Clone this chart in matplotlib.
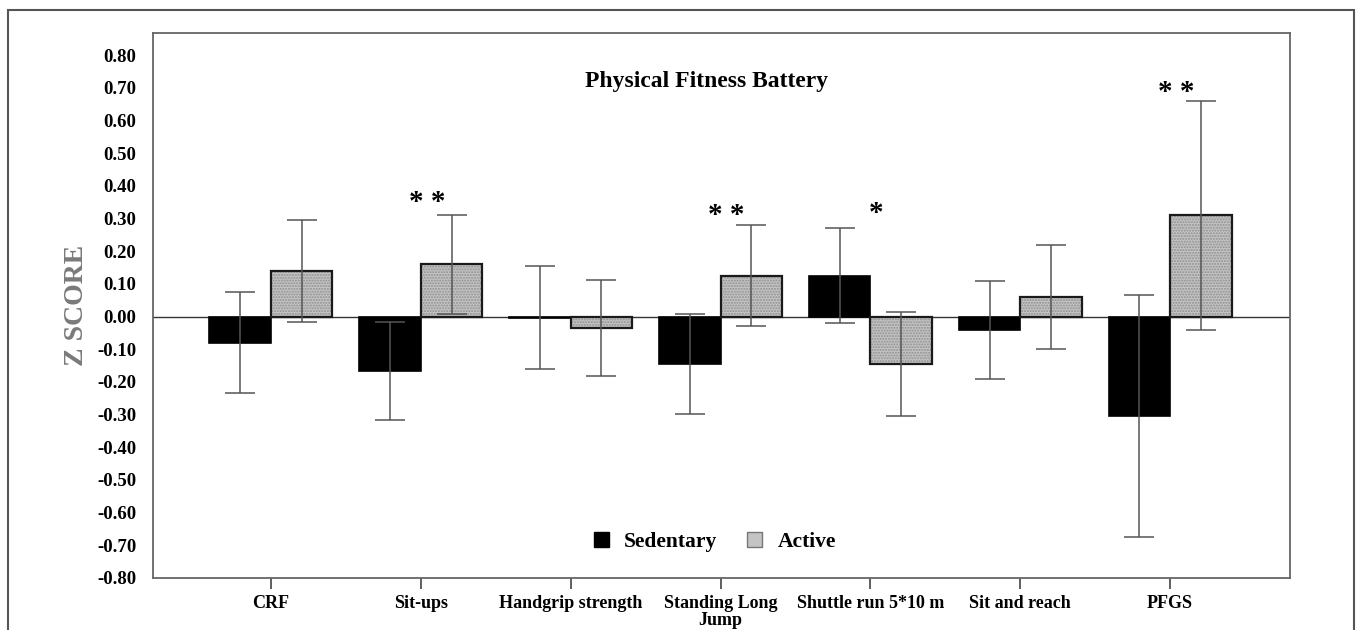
import numpy as np
import matplotlib
matplotlib.use("Agg")
import matplotlib.pyplot as plt
from matplotlib.patches import Patch, Rectangle

plt.rcParams['font.family'] = ['Liberation Serif', 'DejaVu Serif']

categories = ["CRF", "Sit-ups", "Handgrip strength", "Standing Long\nJump",
              "Shuttle run 5*10 m", "Sit and reach", "PFGS"]
sedentary = [-0.08, -0.165, -0.003, -0.145, 0.125, -0.04, -0.305]
sedentary_err = [0.155, 0.15, 0.158, 0.153, 0.145, 0.15, 0.37]
active = [0.14, 0.16, -0.035, 0.125, -0.145, 0.06, 0.31]
active_err = [0.155, 0.152, 0.146, 0.155, 0.16, 0.16, 0.35]
signif = ["", "**", "", "**", "*", "", "**"]
signif_y = [0, 0.35, 0, 0.31, 0.315, 0, 0.685]
yticks = np.round(np.arange(-0.8, 0.81, 0.1), 2)

fig = plt.figure(figsize=(13.57, 6.30), dpi=100)
ax = fig.add_axes([153/1357, 52/630, 1137/1357, 545/630])

# outer frame around the whole figure
fig.patches.append(Rectangle((8/1357, -0.05), 1346/1357, 1.05 - 10/630,
                             transform=fig.transFigure, fill=False,
                             edgecolor="#555555", lw=1.5))

x = np.arange(len(categories))
w = 0.41
ax.bar(x - w/2, sedentary, w, color="black", edgecolor="black", lw=1.2, zorder=2)
ax.bar(x + w/2, active, w, color="#c4c4c4", edgecolor="#8f8f8f", hatch="......",
       lw=0, zorder=2)
ax.bar(x + w/2, active, w, fill=False, edgecolor="#1a1a1a", lw=1.6, zorder=3)
ax.errorbar(x - w/2, sedentary, yerr=sedentary_err, fmt="none", ecolor="#555555",
            elinewidth=1.1, capsize=11, capthick=1.1, zorder=4)
ax.errorbar(x + w/2, active, yerr=active_err, fmt="none", ecolor="#555555",
            elinewidth=1.1, capsize=11, capthick=1.1, zorder=4)
ax.axhline(0, color="#333333", lw=1, zorder=1)

for xi, s, yy in zip(x, signif, signif_y):
    if s:
        ax.text(xi + 0.04, yy, s.replace("*", "* ").strip(), ha="center",
                va="center", fontsize=21, fontweight="bold")

ax.text(2.906, 0.72, "Physical Fitness Battery", ha="center", va="center",
        fontsize=17, fontweight="bold")

ax.set_xlim(-0.787, 6.8)
ax.set_ylim(-0.80, 0.868)
ax.set_yticks(yticks)
ax.set_yticklabels([f"{abs(v):.2f}" if v == 0 else f"{v:.2f}" for v in yticks],
                   fontsize=13.5, fontweight="bold")
ax.tick_params(axis="y", length=0, pad=12)
ax.set_xticks(x)
ax.set_xticklabels(categories, fontsize=13, fontweight="bold", linespacing=1.0)
ax.tick_params(axis="x", length=8, width=1.2, color="#444444", pad=4)
for sp in ax.spines.values():
    sp.set_color("#666666")
    sp.set_linewidth(1.3)

ax.set_ylabel("Z SCORE", fontsize=20, fontweight="bold", color="#7a7a7a",
              labelpad=6)

handles = [Patch(facecolor="black", edgecolor="black"),
           Patch(facecolor="#c4c4c4", edgecolor="#777777")]
ax.legend(handles, ["Sedentary", "Active"], loc="center", bbox_to_anchor=(0.494, 0.066),
          ncol=2, frameon=False, handlelength=0.7, handleheight=0.7,
          columnspacing=1.4, handletextpad=0.7,
          prop={"size": 15.5, "weight": "bold"})

fig.savefig("out.png", dpi=100)
